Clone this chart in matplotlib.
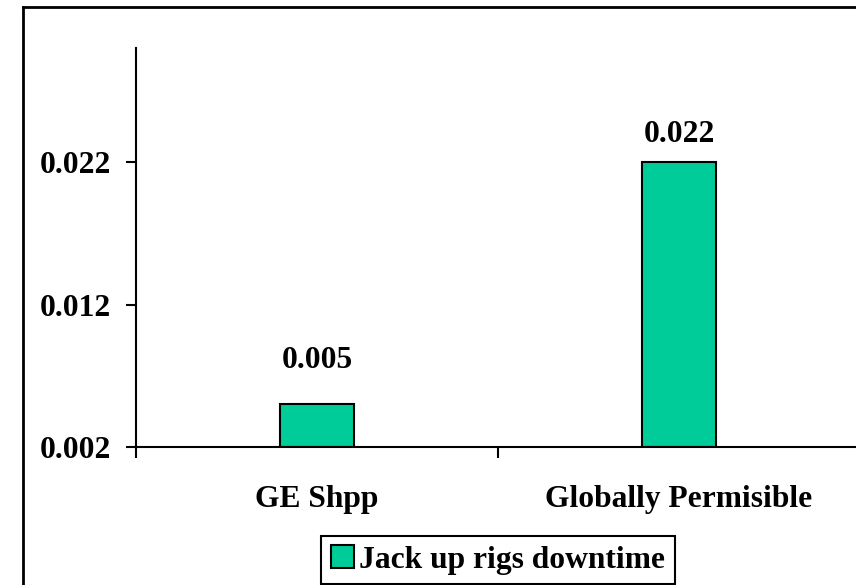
import matplotlib.pyplot as plt
from matplotlib.lines import Line2D

categories = ["GE Shpp", "Globally Permisible"]
downtime = [0.005, 0.022]
label_pads = [21, 9]  # gap above each bar for its value label, points
yticks = [0.002, 0.012, 0.022]
base = 0.002
series_name = "Jack up rigs downtime"
green = "#00CC99"

plt.rcParams["font.family"] = "Liberation Serif"
plt.rcParams["font.weight"] = "bold"
plt.rcParams["font.size"] = 22.7

fig = plt.figure(figsize=(8.56, 5.85), dpi=100)
ax = fig.add_axes([136/856, 1-447/585, 724/856, 399/585])

x = list(range(len(categories)))
heights = [v - base for v in downtime]
bars = ax.bar(x, heights, bottom=base, width=0.207, color=green,
              edgecolor="black", linewidth=1.5, label=series_name)

for xi, v, p in zip(x, downtime, label_pads):
    ax.annotate(f"{v:.3f}", (xi, v), xytext=(0, p), textcoords="offset points",
                ha="center", va="bottom", fontweight="bold")

ax.set_xlim(-0.5, 1.5)
ax.set_ylim(base, 0.030)
ax.set_yticks(yticks)
ax.set_yticklabels([f"{t:.3f}" for t in yticks])
ax.set_xticks([-0.5, 0.5, 1.5], minor=False)
ax.set_xticklabels([])
ax.set_xticks(x, minor=True)
ax.set_xticklabels(categories, minor=True)
ax.tick_params(axis="x", which="minor", length=0, pad=27)
ax.tick_params(axis="x", which="major", direction="out", length=8, width=1.5)
ax.tick_params(axis="y", direction="out", length=7, width=1.5, pad=11)

for s in ["top", "right"]:
    ax.spines[s].set_visible(False)
for s in ["left", "bottom"]:
    ax.spines[s].set_linewidth(1.5)

leg = fig.legend(handles=[bars], loc="lower center",
                 bbox_to_anchor=(498/856, 1/585), fancybox=False,
                 edgecolor="black", framealpha=1, handlelength=0.75,
                 handleheight=0.75, handletextpad=0.15, borderpad=0.3,
                 borderaxespad=0)
leg.get_frame().set_linewidth(1.5)

# outer chart border
fig.add_artist(Line2D([23/856, 23/856], [0, 1-7/585], transform=fig.transFigure,
                      color="black", lw=2))
fig.add_artist(Line2D([23/856, 1], [1-7/585, 1-7/585], transform=fig.transFigure,
                      color="black", lw=2))

fig.savefig("out.png", dpi=100)
